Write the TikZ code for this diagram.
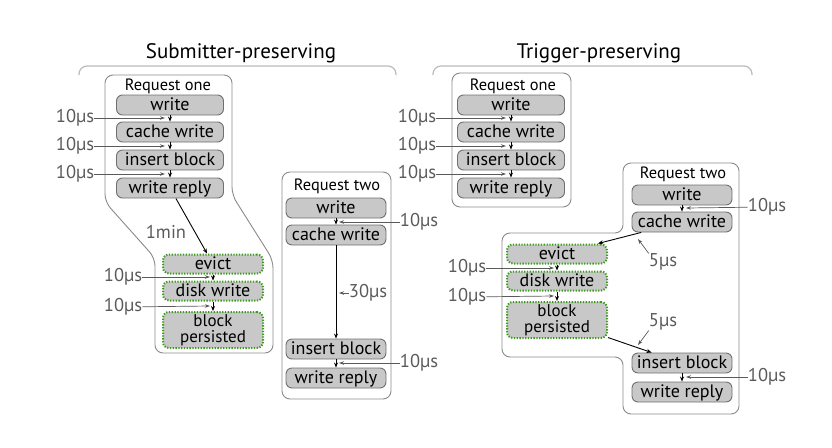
\documentclass[tikz,border=0pt]{standalone}
\usepackage{fontspec}
\setmainfont{PT Sans}
\usetikzlibrary{arrows.meta,calc}
\definecolor{opfill}{HTML}{C8C8C8}
\definecolor{opline}{HTML}{707070}
\definecolor{grn}{HTML}{3C9A1E}
\definecolor{lbl}{HTML}{5A5A5A}
\definecolor{frame}{HTML}{8A8A8A}
\definecolor{brace}{HTML}{BBBBBB}
\tikzset{
  opbase/.style={fill=opfill, rounded corners=6pt, inner sep=0pt, text=black},
  op/.style={opbase, draw=opline, line width=0.9pt,
    minimum height=20pt, text height=13.5pt, text depth=2.5pt,
    font=\fontsize{18}{18}\selectfont},
  opw/.style={op, minimum width=107pt},
  opn/.style={op, minimum width=100pt},
  gop/.style={op, draw=grn, line width=2pt, dash pattern=on 1.3pt off 1.5pt,
    minimum width=100pt, minimum height=19pt},
  gop2/.style={opbase, draw=grn, line width=2pt, dash pattern=on 1.3pt off 1.5pt,
    minimum width=100pt, minimum height=36pt, align=center,
    font=\fontsize{17}{16.5}\selectfont},
  reqlbl/.style={font=\fontsize{16.4}{16}\selectfont, inner sep=0pt},
  tlbl/.style={font=\fontsize{18.5}{18}\selectfont, text=lbl, inner sep=0pt},
  ttl/.style={font=\fontsize{21}{21}\selectfont, inner sep=0pt},
  flow/.style={-{Stealth[length=5pt,width=4pt]}, line width=0.9pt, black},
  note/.style={-{Stealth[length=5pt,width=3.5pt]}, line width=0.7pt, draw=lbl},
  cont/.style={draw=frame, line width=0.9pt, rounded corners=8pt},
  brc/.style={draw=brace, line width=1.2pt, rounded corners=8pt}
}
\begin{document}
\begin{tikzpicture}[x=1pt,y=-1pt]
\useasboundingbox (0,0) rectangle (832,447);

% ---------------- Left panel ----------------
\node[ttl] (t1) at (241,53) {Submitter-preserving};
\draw[brc] (79,75) -- (79,66) -- (396,66) -- (396,75);

\draw[cont] (105,75) -- (232,75) -- (232,195) -- (273,260) -- (273,353) -- (155,353) -- (155,258) -- (105,202) -- cycle;
\node[reqlbl] (r1) at (168,86) {Request one};
\node[opw] (w1) at (170,105) {write};
\node[opw] (cw1) at (170,132) {cache write};
\node[opw] (ib1) at (170,160) {insert block};
\node[opw] (wr1) at (170,188) {write reply};
\draw[flow] (w1) -- (cw1);
\draw[flow] (cw1) -- (ib1);
\draw[flow] (ib1) -- (wr1);
\node[tlbl] (a1) at (75,118) {10µs};
\node[tlbl] (a2) at (75,146) {10µs};
\node[tlbl] (a3) at (75,174) {10µs};
\coordinate (a1e) at (165,118);
\coordinate (a2e) at (165,146);
\coordinate (a3e) at (165,174);
\draw[note] (a1) -- (a1e);
\draw[note] (a2) -- (a2e);
\draw[note] (a3) -- (a3e);

\node[gop] (ev1) at (213,264) {evict};
\node[gop] (dw1) at (213,291) {disk write};
\node[gop2] (bp1) at (213,330) {block\\persisted};
\draw[flow] (wr1) -- (ev1);
\node[tlbl] (m1) at (166,232) {1min};
\draw[flow] (ev1) -- (dw1);
\draw[flow] (dw1) -- (bp1);
\node[tlbl] (a4) at (123,277) {10µs};
\node[tlbl] (a5) at (123,307) {10µs};
\coordinate (a4e) at (210,277);
\coordinate (a5e) at (210,306);
\draw[note] (a4) -- (a4e);
\draw[note] (a5) -- (a5e);

\draw[cont] (282,172) rectangle (391,399);
\node[reqlbl] (r2) at (337,186) {Request two};
\node[opn] (w2) at (336,208) {write};
\node[opn] (cw2) at (336,235) {cache write};
\node[opn] (ib2) at (336,349) {insert block};
\node[opn] (wr2) at (336,378) {write reply};
\draw[flow] (w2) -- (cw2);
\draw[flow] (cw2) -- (ib2);
\draw[flow] (ib2) -- (wr2);
\node[tlbl] (b1) at (419,222) {10µs};
\node[tlbl] (b2) at (368,293) {30µs};
\node[tlbl] (b3) at (419,363) {10µs};
\coordinate (b1e) at (339,222);
\coordinate (b2e) at (339,293);
\coordinate (b3e) at (339,363);
\draw[note] (b1) -- (b1e);
\draw[note] (b2) -- (b2e);
\draw[note] (b3) -- (b3e);

% ---------------- Right panel ----------------
\node[ttl] (t2) at (599,53) {Trigger-preserving};
\draw[brc] (433,75) -- (433,66) -- (752,66) -- (752,75);

\draw[cont] (452,73) rectangle (571,207);
\node[reqlbl] (r3) at (513,86) {Request one};
\node[opw] (w3) at (511,105) {write};
\node[opw] (cw3) at (511,132) {cache write};
\node[opw] (ib3) at (511,160) {insert block};
\node[opw] (wr3) at (511,188) {write reply};
\draw[flow] (w3) -- (cw3);
\draw[flow] (cw3) -- (ib3);
\draw[flow] (ib3) -- (wr3);
\node[tlbl] (c1) at (417,118) {10µs};
\node[tlbl] (c2) at (417,146) {10µs};
\node[tlbl] (c3) at (417,174) {10µs};
\coordinate (c1e) at (506,118);
\coordinate (c2e) at (506,146);
\coordinate (c3e) at (506,174);
\draw[note] (c1) -- (c1e);
\draw[note] (c2) -- (c2e);
\draw[note] (c3) -- (c3e);

\draw[cont] (623,163) -- (739,163) -- (739,414) -- (623,414) -- (623,357) -- (502,357) -- (502,233) -- (623,233) -- cycle;
\node[reqlbl] (r4) at (683,174) {Request two};
\node[opn] (w4) at (682,195) {write};
\node[opn] (cw4) at (682,222) {cache write};
\node[opn] (ib4) at (682,363) {insert block};
\node[opn] (wr4) at (682,392) {write reply};
\draw[flow] (w4) -- (cw4);
\draw[flow] (ib4) -- (wr4);
\node[tlbl] (d1) at (767,207) {10µs};
\node[tlbl] (d2) at (767,377) {10µs};
\coordinate (d1e) at (686,208);
\coordinate (d2e) at (686,377);
\draw[note] (d1) -- (d1e);
\draw[note] (d2) -- (d2e);

\node[gop] (ev4) at (557,254) {evict};
\node[gop] (dw4) at (557,281) {disk write};
\node[gop2] (bp4) at (557,320) {block\\persisted};
\draw[flow] (cw4) -- (ev4);
\draw[flow] (ev4) -- (dw4);
\draw[flow] (dw4) -- (bp4);
\draw[flow] (bp4) -- (ib4);
\node[tlbl] (e1) at (663,262) {5µs};
\node[tlbl] (e2) at (663,322) {5µs};
\coordinate (e1e) at (638,239);
\coordinate (e2e) at (638,345);
\draw[note] (e1.north west) -- (e1e);
\draw[note] (e2.south west) -- (e2e);
\node[tlbl] (f1) at (467,268) {10µs};
\node[tlbl] (f2) at (467,297) {10µs};
\coordinate (f1e) at (554,268);
\coordinate (f2e) at (554,296);
\draw[note] (f1) -- (f1e);
\draw[note] (f2) -- (f2e);
\end{tikzpicture}
\end{document}
